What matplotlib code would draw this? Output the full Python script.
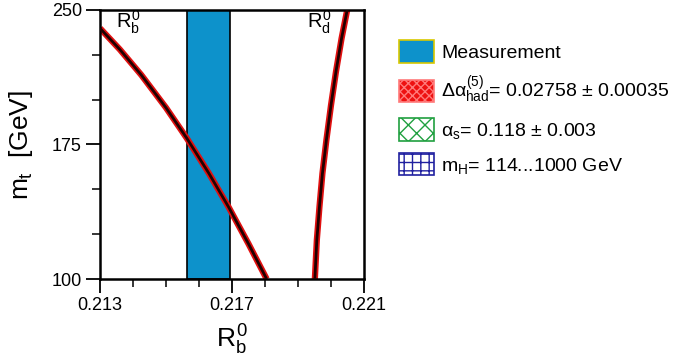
import numpy as np
import matplotlib.pyplot as plt
from matplotlib.patches import Patch
from matplotlib.ticker import MultipleLocator

plt.rcParams['font.family'] = ['Liberation Sans', 'DejaVu Sans']
plt.rcParams['mathtext.fontset'] = 'custom'
plt.rcParams['mathtext.rm'] = 'Liberation Sans'
plt.rcParams['mathtext.it'] = 'Liberation Sans'
plt.rcParams['mathtext.bf'] = 'Liberation Sans:bold'
plt.rcParams['hatch.linewidth'] = 1.0

# measured R_b^0 band
rb_meas = 0.21629
rb_err = 0.00066

# SM prediction curves
rb_R = [0.21300, 0.21360, 0.21425, 0.21500, 0.21563, 0.21630, 0.21690, 0.21750, 0.21805]
rb_mt = [239.8, 228.0, 213.8, 195.5, 178.5, 158.9, 140.0, 119.6, 100.0]
rd_R = [0.21951, 0.21957, 0.21965, 0.21974, 0.21986, 0.22000, 0.22015, 0.22032, 0.22049]
rd_mt = [100.0, 121.7, 140.3, 158.9, 177.5, 197.0, 215.6, 234.2, 250.0]

xticks = [0.213, 0.217, 0.221]
xticklabels = ['0.213', '0.217', '0.221']
yticks = [100, 175, 250]

legend_labels = ['Measurement',
                 r'$\Delta\alpha^{(5)}_{had}$= 0.02758 ± 0.00035',
                 r'$\alpha_s$= 0.118 ± 0.003',
                 r'$m_H$= 114...1000 GeV']

fig = plt.figure(figsize=(6.77, 3.63), dpi=100)
ax = fig.add_axes([0.1477, 0.2314, 0.3900, 0.7411])

ax.axvspan(rb_meas - rb_err, rb_meas + rb_err, facecolor='#0d92cb',
           edgecolor='black', linewidth=1.2, zorder=1)

for R, mt in [(rb_R, rb_mt), (rd_R, rd_mt)]:
    ax.plot(R, mt, color='#e01010', linewidth=4.5, solid_capstyle='butt',
            solid_joinstyle='round', zorder=2)
    ax.plot(R, mt, color='#200000', linewidth=2.0, solid_capstyle='butt',
            solid_joinstyle='round', zorder=3)

ax.text(0.2135, 243, r'$R_b^0$', fontsize=14.5, ha='left', va='center')
ax.text(0.22002, 243, r'$R_d^0$', fontsize=14.5, ha='right', va='center')

ax.set_xlim(0.213, 0.221)
ax.set_ylim(100, 250)
ax.set_xticks(xticks)
ax.set_xticklabels(xticklabels)
ax.set_yticks(yticks)
ax.xaxis.set_minor_locator(MultipleLocator(0.001))
ax.yaxis.set_minor_locator(MultipleLocator(25))
ax.tick_params(which='major', direction='out', length=10, width=1.3, labelsize=13, pad=3)
ax.tick_params(which='minor', direction='out', length=6, width=1.1)
for s in ax.spines.values():
    s.set_linewidth(1.8)

ax.set_xlabel(r'$R_b^0$', fontsize=19, labelpad=6)
ax.set_ylabel(r'$m_t$  [GeV]', fontsize=19, labelpad=12)

handles = [Patch(facecolor='#0d92cb', edgecolor='#d8c800', linewidth=1.2),
           Patch(facecolor='#ee1111', edgecolor='#ff7a7a', hatch='xxxx', linewidth=1.2),
           Patch(facecolor='white', edgecolor='#20a040', hatch='xx', linewidth=1.2),
           Patch(facecolor='white', edgecolor='#2020a0', hatch='++', linewidth=1.2)]
leg = fig.legend(handles, legend_labels, loc='upper left', bbox_to_anchor=(0.578, 0.91),
                 frameon=False, fontsize=14, handlelength=1.8, handleheight=1.4,
                 handletextpad=0.35, labelspacing=0.62, borderaxespad=0)

fig.savefig('out.png', dpi=100)
